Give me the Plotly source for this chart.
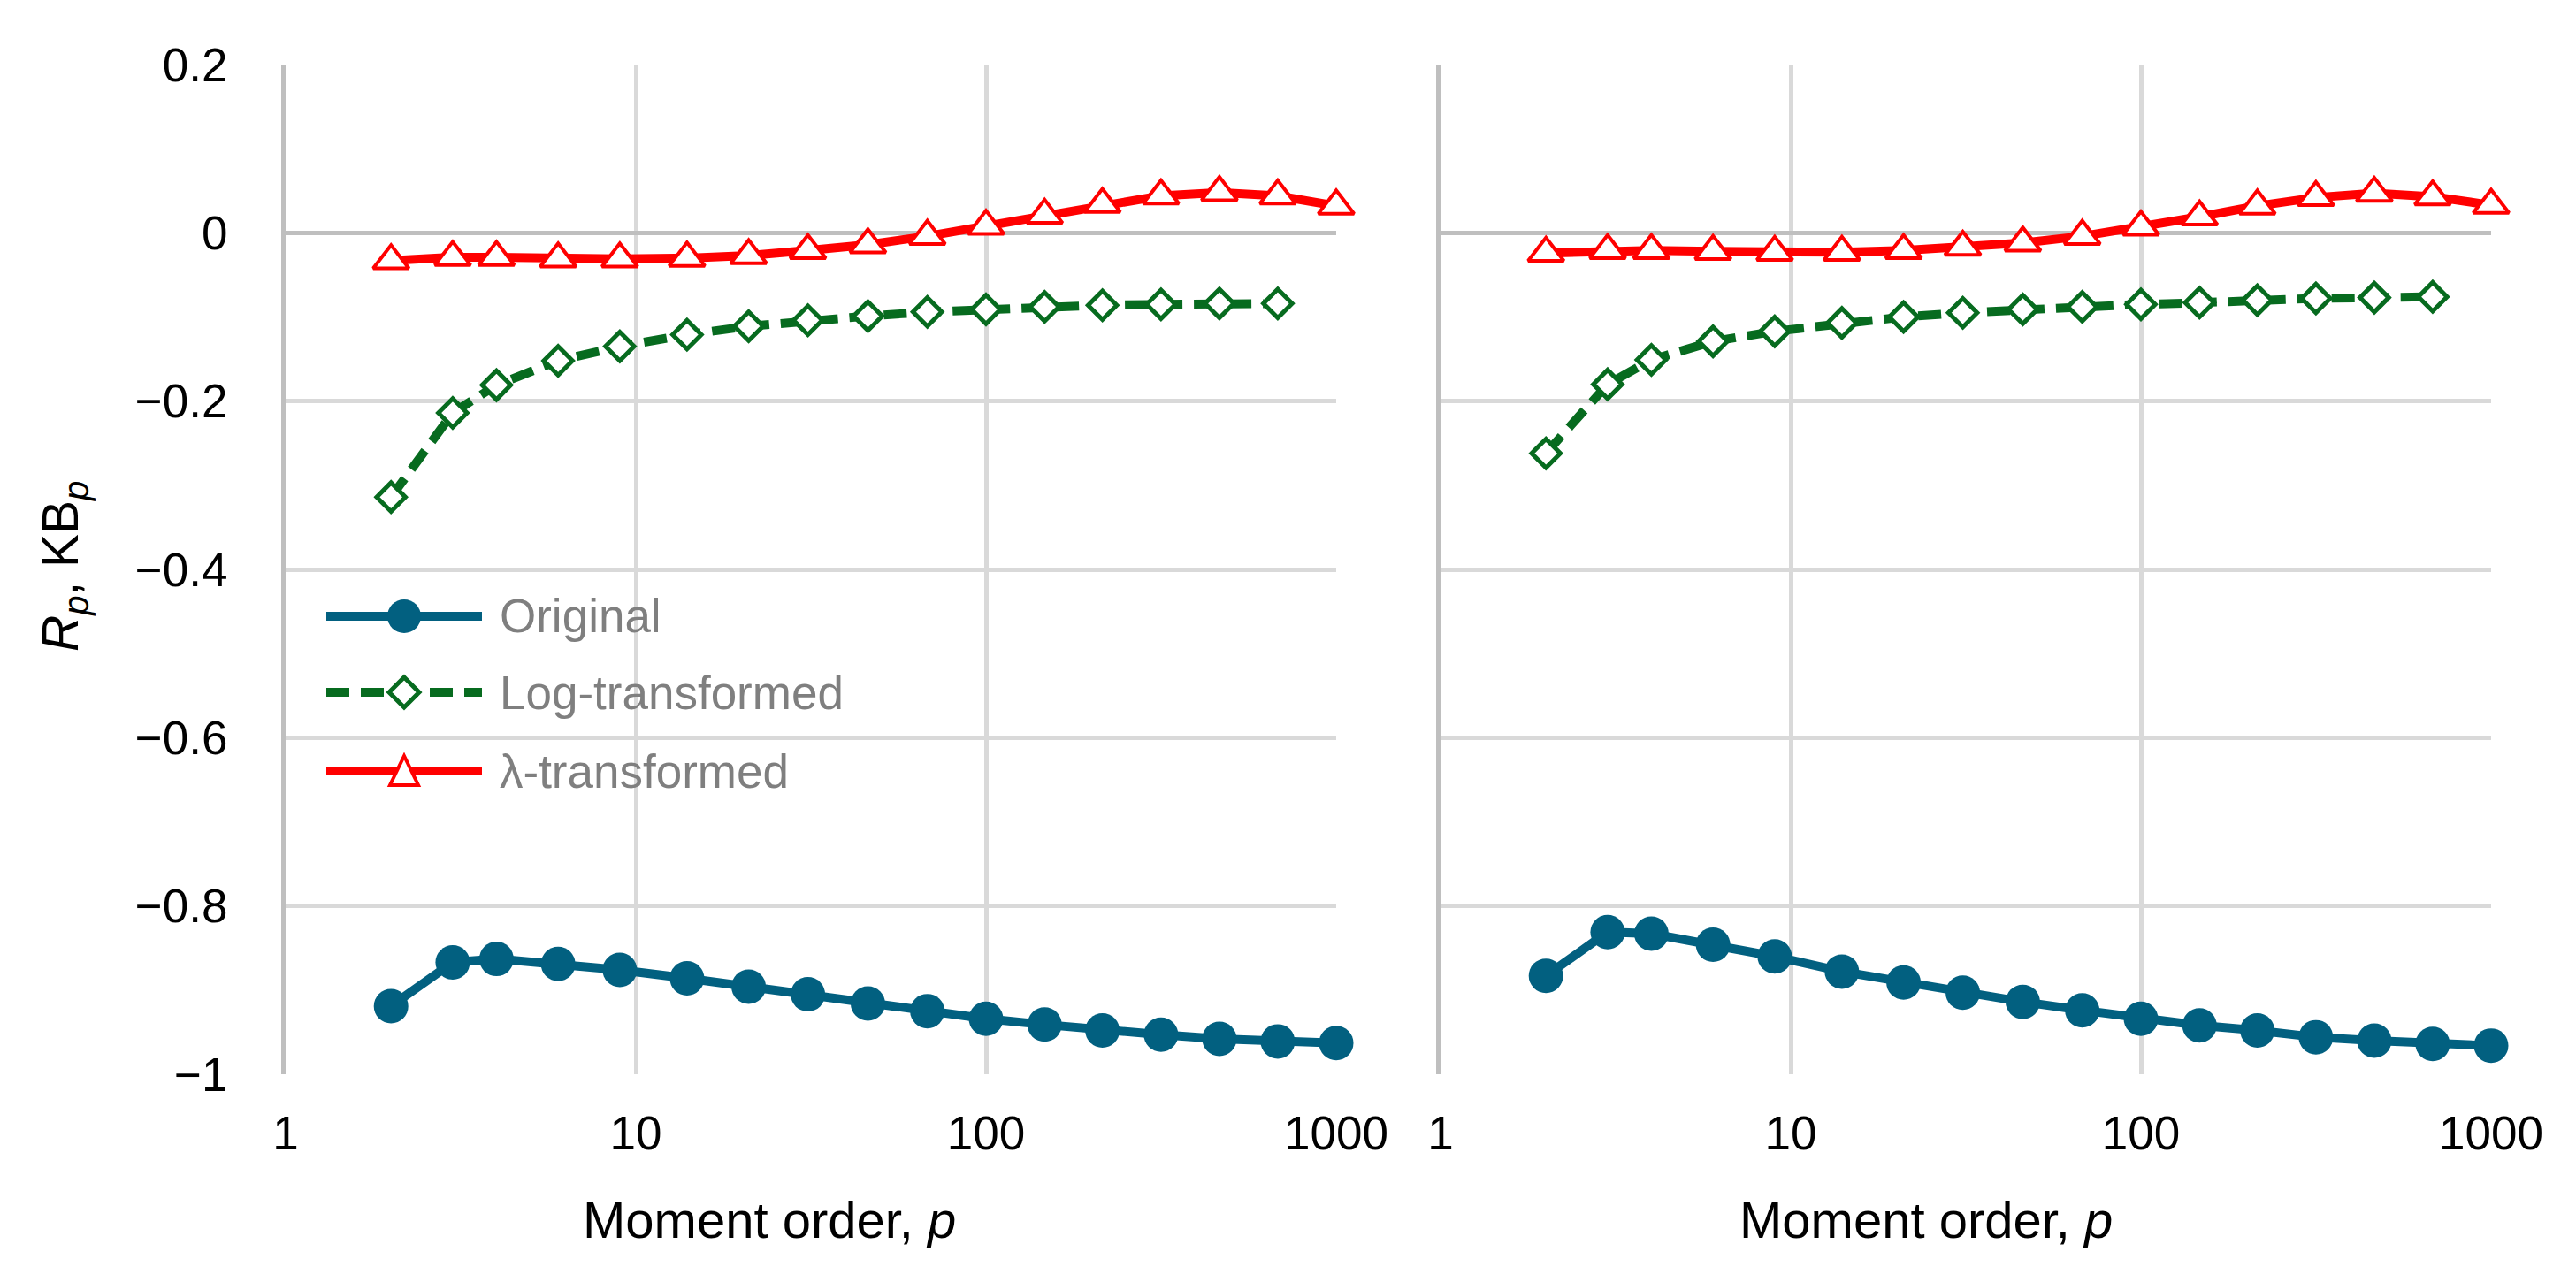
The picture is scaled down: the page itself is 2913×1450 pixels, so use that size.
import plotly.graph_objects as go

# ---------------- data ----------------
p = [2, 3, 4, 6, 9, 14, 21, 31, 46, 68, 100, 147, 215, 316, 464, 681, 1000]
p_log = p[:16]

orig_L = [-0.919, -0.867, -0.863, -0.869, -0.876, -0.886, -0.896, -0.905, -0.916,
          -0.925, -0.934, -0.941, -0.948, -0.953, -0.958, -0.961, -0.963]
log_L = [-0.314, -0.214, -0.181, -0.152, -0.135, -0.121, -0.111, -0.104, -0.099,
         -0.094, -0.091, -0.088, -0.086, -0.085, -0.084, -0.084]
lam_L = [-0.033, -0.029, -0.029, -0.031, -0.031, -0.030, -0.027, -0.021, -0.014,
         -0.004, 0.008, 0.021, 0.034, 0.044, 0.048, 0.044, 0.032]

orig_R = [-0.883, -0.831, -0.833, -0.846, -0.860, -0.878, -0.891, -0.903, -0.914,
          -0.924, -0.934, -0.942, -0.948, -0.956, -0.960, -0.964, -0.966]
log_R = [-0.262, -0.180, -0.151, -0.129, -0.117, -0.107, -0.100, -0.095, -0.091,
         -0.088, -0.085, -0.083, -0.080, -0.078, -0.077, -0.076]
lam_R = [-0.024, -0.021, -0.021, -0.022, -0.023, -0.023, -0.021, -0.017, -0.012,
         -0.004, 0.007, 0.019, 0.032, 0.042, 0.047, 0.043, 0.033]

series_names = ["Original", "Log-transformed", "λ-transformed"]
x_tickvals = [1, 10, 100, 1000]
x_ticktext = ["1", "10", "100", "1000"]
y_tickvals = [0.2, 0, -0.2, -0.4, -0.6, -0.8, -1]
y_ticktext = ["0.2", "0", "−0.2", "−0.4", "−0.6", "−0.8", "−1"]

# ---------------- styles ----------------
W, H = 2913, 1450
OFF = 8  # page body margin added by the browser
L, R, T, B = 323 - OFF, 2817 - OFF, 73 - OFF, 1215 - OFF
BLUE = "#026080"
GREEN = "#076B1F"
RED = "#FF0000"
FONT = "Liberation Sans, Arial, sans-serif"
LW = 10


def px(x):
    # screen pixel -> paper coordinate
    return (x - OFF - L) / (R - L)


def py(y):
    return (B - (y - OFF)) / (B - T)


fig = go.Figure()


def add_panel(xa, ya, orig, logv, lam):
    fig.add_trace(go.Scatter(x=p, y=orig, xaxis=xa, yaxis=ya, mode="lines+markers",
                             line=dict(color=BLUE, width=LW),
                             marker=dict(symbol="circle", size=39, color=BLUE),
                             cliponaxis=False, showlegend=False, name=series_names[0]))
    fig.add_trace(go.Scatter(x=p_log, y=logv, xaxis=xa, yaxis=ya, mode="lines+markers",
                             line=dict(color=GREEN, width=LW, dash="26px,13px"),
                             marker=dict(symbol="diamond", size=25, color="white",
                                         line=dict(color=GREEN, width=5)),
                             cliponaxis=False, showlegend=False, name=series_names[1]))
    fig.add_trace(go.Scatter(x=p, y=lam, xaxis=xa, yaxis=ya, mode="lines+markers",
                             line=dict(color=RED, width=LW),
                             marker=dict(symbol="triangle-up", size=35, color="white",
                                         line=dict(color=RED, width=4)),
                             cliponaxis=False, showlegend=False, name=series_names[2]))


add_panel("x", "y", orig_L, log_L, lam_L)
add_panel("x2", "y2", orig_R, log_R, lam_R)

xcommon = dict(type="log", range=[0, 3], tickvals=x_tickvals, ticktext=x_ticktext,
               showgrid=True, gridcolor="#D9D9D9", gridwidth=5, showline=False,
               zeroline=False, ticks="", ticklabelstandoff=31,
               tickfont=dict(family=FONT, size=53, color="black"))
ycommon = dict(range=[-1, 0.2], tickvals=y_tickvals, ticktext=y_ticktext,
               showgrid=True, gridcolor="#D9D9D9", gridwidth=5,
               zeroline=True, zerolinecolor="#BFBFBF", zerolinewidth=5,
               showline=True, linecolor="#BFBFBF", linewidth=5, ticks="")

fig.update_layout(
    width=W, height=H,
    margin=dict(l=L, r=W - R, t=T, b=H - B),
    paper_bgcolor="white", plot_bgcolor="white",
    showlegend=False,
    font=dict(family=FONT, size=53, color="black"),
    xaxis=dict(domain=[0, px(1511)], anchor="y", **xcommon),
    xaxis2=dict(domain=[px(1629), 1], anchor="y2", **xcommon),
    yaxis=dict(anchor="x", ticklabelstandoff=50,
               tickfont=dict(family=FONT, size=53, color="black"), **ycommon),
    yaxis2=dict(anchor="x2", showticklabels=False, **ycommon),
)

annotations = [
    dict(text="Moment order, <i>p</i>", xref="paper", yref="paper", x=px(870), y=py(1379),
         xanchor="center", yanchor="middle", showarrow=False,
         font=dict(family=FONT, size=58, color="black")),
    dict(text="Moment order, <i>p</i>", xref="paper", yref="paper", x=px(2178), y=py(1379),
         xanchor="center", yanchor="middle", showarrow=False,
         font=dict(family=FONT, size=58, color="black")),
    dict(text="<i>R</i><sub><i>p</i></sub>, KB<sub><i>p</i></sub>", xref="paper", yref="paper",
         x=px(72), y=py(641), xanchor="center", yanchor="middle", textangle=-90,
         showarrow=False, font=dict(family=FONT, size=57, color="black")),
]

# ---------------- manual legend ----------------
leg_rows = [697, 783, 872]
leg_x0, leg_x1, leg_xc = 369, 545, 457
shapes = []
# Original
shapes.append(dict(type="line", xref="paper", yref="paper", x0=px(leg_x0), x1=px(leg_x1),
                   y0=py(leg_rows[0]), y1=py(leg_rows[0]), line=dict(color=BLUE, width=LW)))
shapes.append(dict(type="circle", xref="paper", yref="paper", x0=px(leg_xc - 19), x1=px(leg_xc + 19),
                   y0=py(leg_rows[0] - 19), y1=py(leg_rows[0] + 19), fillcolor=BLUE,
                   line=dict(width=0)))
# Log-transformed
shapes.append(dict(type="line", xref="paper", yref="paper", x0=px(leg_x0), x1=px(leg_x1),
                   y0=py(leg_rows[1]), y1=py(leg_rows[1]),
                   line=dict(color=GREEN, width=LW, dash="26px,13px")))
yc = leg_rows[1]
shapes.append(dict(type="path", xref="paper", yref="paper",
                   path=f"M{px(leg_xc-17)},{py(yc)} L{px(leg_xc)},{py(yc-17)} L{px(leg_xc+17)},{py(yc)} L{px(leg_xc)},{py(yc+17)} Z",
                   fillcolor="white", line=dict(color=GREEN, width=5)))
# λ-transformed
shapes.append(dict(type="line", xref="paper", yref="paper", x0=px(leg_x0), x1=px(leg_x1),
                   y0=py(leg_rows[2]), y1=py(leg_rows[2]), line=dict(color=RED, width=LW)))
yc = leg_rows[2]
shapes.append(dict(type="path", xref="paper", yref="paper",
                   path=f"M{px(leg_xc-16)},{py(yc+16)} L{px(leg_xc+16)},{py(yc+16)} L{px(leg_xc)},{py(yc-17)} Z",
                   fillcolor="white", line=dict(color=RED, width=4)))

for name, yrow in zip(series_names, leg_rows):
    annotations.append(dict(text=name, xref="paper", yref="paper", x=px(563), y=py(yrow),
                            xanchor="left", yanchor="middle", showarrow=False,
                            font=dict(family=FONT, size=53, color="#7F7F7F")))

fig.update_layout(annotations=annotations, shapes=shapes)

fig.write_html("out.html")
